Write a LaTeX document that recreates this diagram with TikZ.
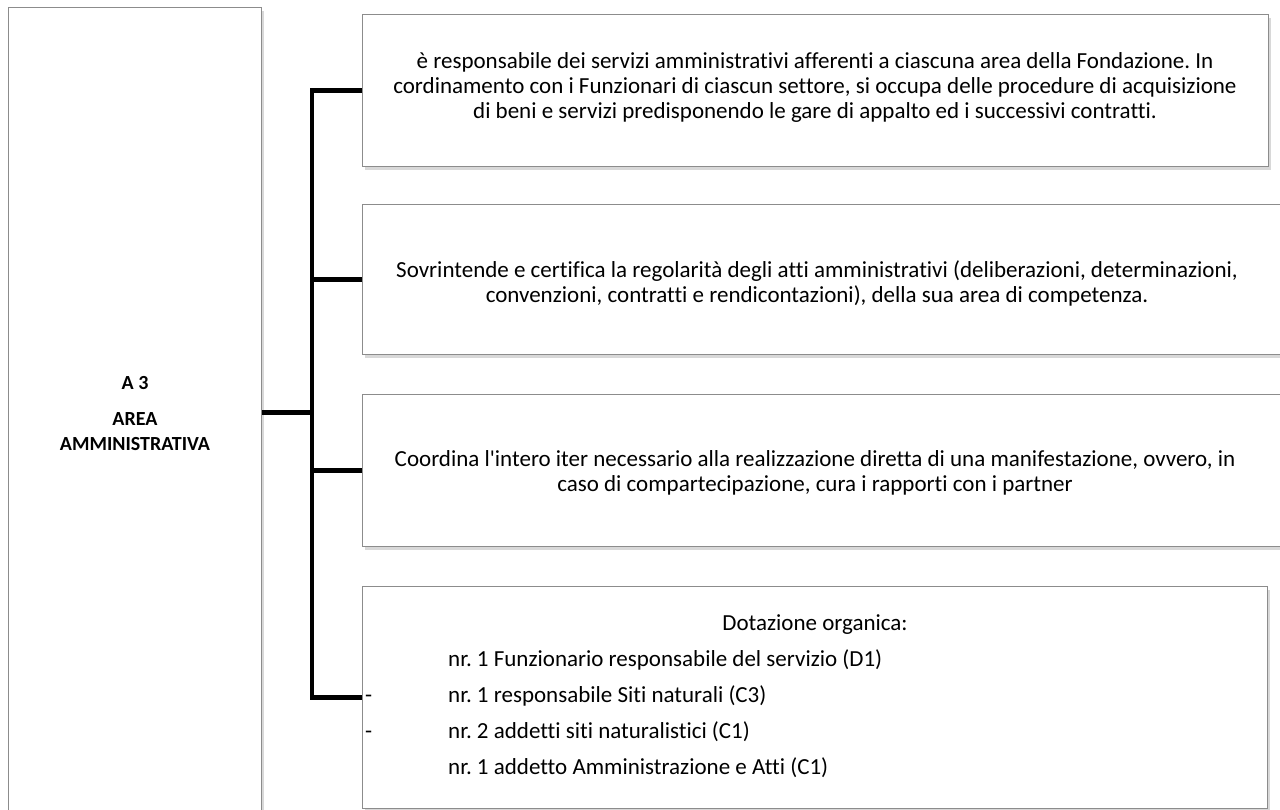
\documentclass[tikz,border=0pt]{standalone}
\usepackage{fontspec}
\setmainfont{Carlito}[Ligatures=NoCommon]
\usetikzlibrary{shadows}
\frenchspacing
\begin{document}
\begin{tikzpicture}[x=1pt,y=-1pt,
  box/.style={draw=black!45, line width=1.1pt, fill=white, rectangle, inner sep=0pt,
    anchor=north west,
    drop shadow={shadow xshift=2pt, shadow yshift=-3pt, fill=black!30, opacity=0.5}},
  txt/.style={font=\fontsize{23}{25}\selectfont, align=center},
  conn/.style={line width=4.5pt, line join=miter, black},
  item/.style={font=\fontsize{23}{25}\selectfont, anchor=base west, inner sep=0pt}]
\useasboundingbox (0,0) rectangle (1280,809);
\begin{scope}
\clip (0,0) rectangle (1280,809);
\node[box, minimum width=253pt, minimum height=810pt] (A) at (8,7) {};
\node[font=\bfseries\fontsize{20}{25}\selectfont, align=center] (Alab) at (135,414) {A 3\\[11pt]AREA\\AMMINISTRATIVA};
\node[box, minimum width=906pt, minimum height=152pt] (b1) at (362,14) {};
\node[txt] (t1) at (815,87) {è responsabile dei servizi amministrativi afferenti a ciascuna area della Fondazione. In\\cordinamento con i Funzionari di ciascun settore, si occupa delle procedure di acquisizione\\di beni e servizi predisponendo le gare di appalto ed i successivi contratti.};
\node[box, minimum width=930pt, minimum height=150pt] (b2) at (362,204) {};
\node[txt] (t2) at (817,283) {Sovrintende e certifica la regolarità degli atti amministrativi (deliberazioni, determinazioni,\\convenzioni, contratti e rendicontazioni), della sua area di competenza.};
\node[box, minimum width=930pt, minimum height=152pt] (b3) at (362,394) {};
\node[txt] (t3) at (815,473) {Coordina l\textquotesingle intero iter necessario alla realizzazione diretta di una manifestazione, ovvero, in\\caso di compartecipazione, cura i rapporti con i partner};
\node[box, minimum width=905pt, minimum height=222pt] (b4) at (362,586) {};
\node[item, anchor=base] (d0) at (815,630) {Dotazione organica:};
\node[item] (d1) at (448,666) {nr. 1 Funzionario responsabile del servizio (D1)};
\node[item] (d2) at (448,702) {nr. 1 responsabile Siti naturali (C3)};
\node[item] (d3) at (448,738) {nr. 2 addetti siti naturalistici (C1)};
\node[item] (d4) at (448,774) {nr. 1 addetto Amministrazione e Atti (C1)};
\node[item] (m1) at (365,702) {-};
\node[item] (m2) at (365,738) {-};
\draw[conn] (A.east) -- ++(50,0) coordinate (j);
\draw[conn] (b1.west) -| (b4.west -| j) -- (b4.west);
\draw[conn] (b2.west) -- (b2.west -| j);
\draw[conn] (b3.west) -- (b3.west -| j);
\end{scope}
\end{tikzpicture}
\end{document}
